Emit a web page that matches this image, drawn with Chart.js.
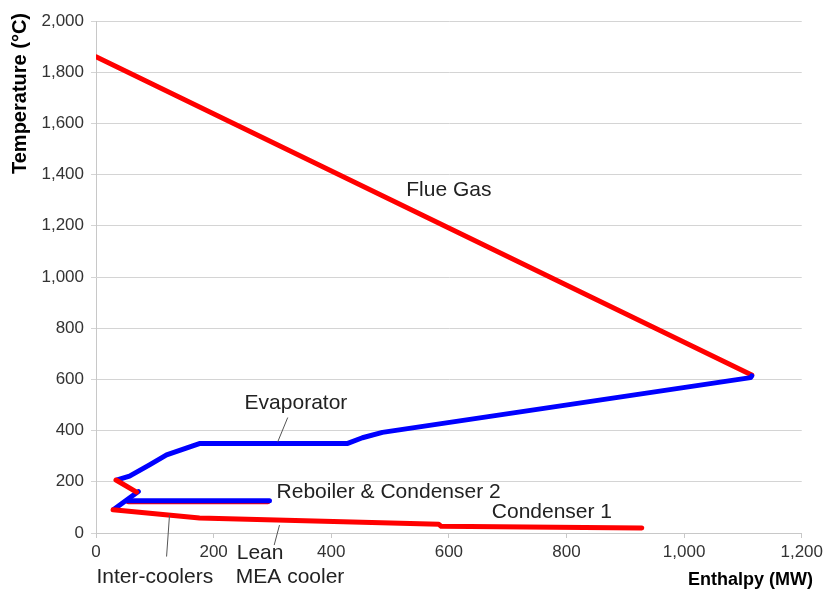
<!DOCTYPE html>
<html>
<head>
<meta charset="utf-8">
<script src="https://cdn.jsdelivr.net/npm/chart.js@4.4.0/dist/chart.umd.min.js"></script>
<style>
  html, body { margin: 0; padding: 0; background: #fff; }
  #wrap { width: 827px; height: 590px; }
</style>
</head>
<body>
<div id="wrap"><canvas id="myChart" width="827" height="590"></canvas></div>
<script>
// Enthalpy (MW) / temperature (°C) pairs
const flueGasH = [0, 1115];
const flueGasT = [1860, 617];

const evapH = [1115, 1113, 487, 453, 428, 177, 120, 91, 57, 43, 36];
const evapT = [614, 607, 393, 372, 350, 350, 305, 266, 222, 212, 207];

const hotZigH = [34, 69];
const hotZigT = [207, 160];

const coldZigH = [72, 30];
const coldZigT = [162, 92];

const reboilerH = [52, 295];
const reboilerT = [126, 126];

const condenser2H = [55, 292];
const condenser2T = [122, 122];

const coolersH = [29, 176, 583, 587, 928];
const coolersT = [91, 59, 34, 26, 20];

const xTicks = { min: 0, max: 1200, step: 200 };
const yTicks = { min: 0, max: 2000, step: 200 };

// text notes placed in data units
const notes = [
    { text: 'Flue Gas', x: 600, y: 1340, align: 'center' },
    { text: 'Evaporator', x: 340, y: 508, align: 'center' },
    { text: 'Reboiler & Condenser 2', x: 307, y: 161, align: 'left' },
    { text: 'Condenser 1', x: 673, y: 83, align: 'left' },
    { text: 'Inter-coolers', x: 100, y: -171, align: 'center' },
    { text: 'Lean', x: 279, y: -78, align: 'center' },
    { text: 'MEA cooler', x: 330, y: -172, align: 'center' }
];
const leaders = [
    [326, 451, 309, 356],
    [125, 70, 120, -92],
    [312, 31, 303, -47]
];

const RED = '#ff0000';
const BLUE = '#0000ff';

function pts(xs, ys) {
    return xs.map((x, i) => ({ x: x, y: ys[i] }));
}

function line(data, color, order) {
    return {
        data: data,
        borderColor: color,
        backgroundColor: color,
        borderWidth: 5,
        borderCapStyle: 'round',
        borderJoinStyle: 'round',
        showLine: true,
        pointRadius: 0,
        pointHoverRadius: 0,
        tension: 0,
        order: order
    };
}

const FONT = "'Liberation Sans', Arial, sans-serif";

const notesPlugin = {
    id: 'notes',
    afterDraw(chart) {
        const ctx = chart.ctx;
        const xs = chart.scales.x;
        const ys = chart.scales.y;
        ctx.save();
        ctx.strokeStyle = '#555';
        ctx.lineWidth = 1;
        leaders.forEach(l => {
            ctx.beginPath();
            ctx.moveTo(xs.getPixelForValue(l[0]), ys.getPixelForValue(l[1]));
            ctx.lineTo(xs.getPixelForValue(l[2]), ys.getPixelForValue(l[3]));
            ctx.stroke();
        });
        ctx.fillStyle = '#222';
        ctx.font = '21px ' + FONT;
        ctx.textBaseline = 'middle';
        notes.forEach(n => {
            ctx.textAlign = n.align;
            ctx.fillText(n.text, xs.getPixelForValue(n.x), ys.getPixelForValue(n.y));
        });

        // axis titles
        ctx.fillStyle = '#000';
        ctx.font = 'bold 18px ' + FONT;
        ctx.textAlign = 'right';
        ctx.fillText('Enthalpy (MW)', 813, 580);
        ctx.font = 'bold 20px ' + FONT;
        ctx.translate(20, 13);
        ctx.rotate(-Math.PI / 2);
        ctx.fillText('Temperature (°C)', 0, 0);
        ctx.restore();
    }
};

const ctx = document.getElementById('myChart').getContext('2d');
const myChart = new Chart(ctx, {
    type: 'scatter',
    data: {
        datasets: [
            line(pts(condenser2H, condenser2T), RED, 9),
            line(pts(reboilerH, reboilerT), BLUE, 8),
            line(pts(coldZigH, coldZigT), BLUE, 7),
            line(pts(coolersH, coolersT), RED, 6),
            line(pts(flueGasH, flueGasT), RED, 5),
            line(pts(evapH, evapT), BLUE, 4),
            line(pts(hotZigH, hotZigT), RED, 3)
        ]
    },
    options: {
        responsive: false,
        animation: false,
        layout: { padding: { top: 21, right: 24, left: 0, bottom: 0 } },
        plugins: {
            legend: { display: false },
            tooltip: { enabled: false }
        },
        scales: {
            x: {
                type: 'linear',
                min: xTicks.min,
                max: xTicks.max,
                afterFit(scale) { scale.height = 57; },
                ticks: {
                    stepSize: xTicks.step,
                    color: '#333',
                    font: { family: FONT, size: 17 },
                    padding: 4
                },
                grid: {
                    drawOnChartArea: false,
                    drawTicks: true,
                    tickLength: 5,
                    color: '#c8c8c8'
                },
                border: { color: '#c8c8c8', width: 1 }
            },
            y: {
                type: 'linear',
                min: yTicks.min,
                max: yTicks.max,
                afterFit(scale) { scale.width = 96; },
                ticks: {
                    stepSize: yTicks.step,
                    color: '#333',
                    font: { family: FONT, size: 17 },
                    padding: 7
                },
                grid: {
                    color: '#d4d4d4',
                    tickLength: 5
                },
                border: { color: '#c8c8c8', width: 1 }
            }
        }
    },
    plugins: [notesPlugin]
});
</script>
</body>
</html>
